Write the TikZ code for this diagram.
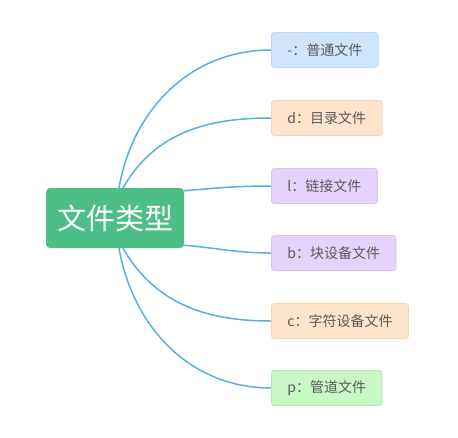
\documentclass[tikz,border=0pt]{standalone}
\usepackage{fontspec}
\setmainfont{Noto Sans CJK SC}
\usepackage{tikz}
\usetikzlibrary{arrows}

\definecolor{rootgreen}{HTML}{4DBE85}
\definecolor{linkblue}{HTML}{5AAEE3}
\definecolor{labgrey}{HTML}{5A5A5A}
\definecolor{bluefill}{HTML}{CEE5FC}
\definecolor{blueline}{HTML}{BCD8F3}
\definecolor{peachfill}{HTML}{FDE4CC}
\definecolor{peachline}{HTML}{F2D4B3}
\definecolor{lilacfill}{HTML}{E6D3FA}
\definecolor{lilacline}{HTML}{D8C3F0}
\definecolor{greenfill}{HTML}{C9F8C6}
\definecolor{greenline}{HTML}{B4E9B0}

\begin{document}
\begin{tikzpicture}[x=1pt,y=-1pt,
	root_node/.style={rectangle,rounded corners=4pt,fill=rootgreen,text=white,minimum width=138pt,minimum height=60pt,inner sep=0pt,font=\fontsize{29}{29}\selectfont},
	leaf_node/.style={rectangle,rounded corners=3pt,anchor=west,draw=#1line,fill=#1fill,line width=0.8pt,text=labgrey,minimum height=35pt,inner xsep=16pt,inner ysep=0pt,font=\fontsize{14}{14}\selectfont},
	link/.style={draw=linkblue,line width=1.5pt}]

		\useasboundingbox (0,0) rectangle (458,437);

		\node[root_node] (0) at (115,218) {文件类型};

		\node[leaf_node=blue] (1) at (271,50) {-：普通文件};
		\node[leaf_node=peach] (2) at (271,118) {d：目录文件};
		\node[leaf_node=lilac] (3) at (271,186) {l：链接文件};
		\node[leaf_node=lilac] (4) at (271,253) {b：块设备文件};
		\node[leaf_node=peach] (5) at (271,321) {c：字符设备文件};
		\node[leaf_node=green] (6) at (271,388) {p：管道文件};

		\draw[link] ([xshift=4pt]0.north) to[out=80,in=180] (1.west);
		\draw[link] ([xshift=8pt]0.north) to[out=60,in=180] (2.west);
		\draw[link] ([yshift=-3pt]0.north east) to[out=5,in=180] (3.west);
		\draw[link] ([yshift=3pt]0.south east) to[out=-5,in=180] (4.west);
		\draw[link] ([xshift=8pt]0.south) to[out=-60,in=180] (5.west);
		\draw[link] ([xshift=4pt]0.south) to[out=-80,in=180] (6.west);
		\end{tikzpicture}
\end{document}
